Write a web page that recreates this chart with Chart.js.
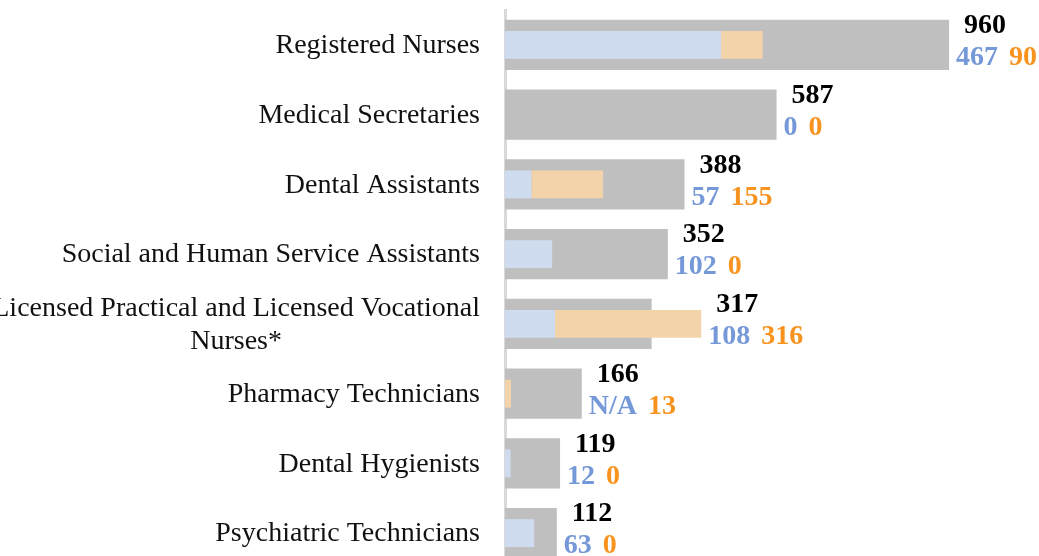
<!DOCTYPE html>
<html><head><meta charset="utf-8">
<script src="https://cdn.jsdelivr.net/npm/chart.js@4/dist/chart.umd.min.js"></script>
<style>
html,body{margin:0;padding:0;background:#fff;overflow:hidden;width:1039px;height:556px;}
#clip{width:1039px;height:556px;overflow:hidden;position:relative;}
#wrap{width:1039px;height:580px;position:absolute;left:0;top:0;}
</style></head><body>
<div id="clip"><div id="wrap"><canvas id="c"></canvas></div></div>
<script>
const categories = [
  "Registered Nurses",
  "Medical Secretaries",
  "Dental Assistants",
  "Social and Human Service Assistants",
  ["Licensed Practical and Licensed Vocational", "Nurses*"],
  "Pharmacy Technicians",
  "Dental Hygienists",
  "Psychiatric Technicians"
];
const totals = [960, 587, 388, 352, 317, 166, 119, 112];
const blueVals = [467, 0, 57, 102, 108, null, 12, 63];
const orangeVals = [90, 0, 155, 0, 316, 13, 0, 0];
const blueLabels = ["467", "0", "57", "102", "108", "N/A", "12", "63"];
const orangeLabels = ["90", "0", "155", "0", "316", "13", "0", "0"];

const BLUE_TXT = '#7598D8', ORANGE_TXT = '#F7931E';
const SERIF = '"Liberation Serif", "Times New Roman", serif';

const labelPlugin = {
  id: 'labels',
  afterDraw(chart) {
    const ctx = chart.ctx, xs = chart.scales.x, ys = chart.scales.y;
    const left = chart.chartArea.left;
    ctx.save();
    ctx.textBaseline = 'middle';
    categories.forEach((cat, i) => {
      const cy = ys.getPixelForValue(i);
      const endVal = Math.max(totals[i], (blueVals[i] || 0) + (orangeVals[i] || 0));
      const end = xs.getPixelForValue(endVal);
      ctx.font = 'bold 28px ' + SERIF;
      ctx.textAlign = 'left';
      ctx.fillStyle = '#000';
      ctx.fillText(String(totals[i]), end + 15, cy - 19);
      ctx.fillStyle = BLUE_TXT;
      ctx.fillText(blueLabels[i], end + 7, cy + 13);
      const w = ctx.measureText(blueLabels[i]).width;
      ctx.fillStyle = ORANGE_TXT;
      ctx.fillText(orangeLabels[i], end + 7 + w + 11, cy + 13);

      ctx.font = '28px ' + SERIF;
      ctx.fillStyle = '#111';
      const lines = Array.isArray(cat) ? cat : [cat];
      const maxW = Math.max(...lines.map(l => ctx.measureText(l).width));
      const right = left - 25;
      const lh = 33;
      ctx.textAlign = 'center';
      lines.forEach((ln, j) => {
        ctx.fillText(ln, right - maxW / 2, cy + 1 + (j - (lines.length - 1) / 2) * lh);
      });
    });
    ctx.restore();
  }
};

new Chart(document.getElementById('c'), {
  type: 'bar',
  data: {
    labels: categories,
    datasets: [
      { label: 'Blue', data: blueVals, backgroundColor: '#CFDCEF', stack: 'parts', grouped: false,
        barPercentage: 0.40, categoryPercentage: 1, order: 1 },
      { label: 'Orange', data: orangeVals, backgroundColor: '#F3D3A9', stack: 'parts', grouped: false,
        barPercentage: 0.40, categoryPercentage: 1, order: 1 },
      { label: 'Total', data: totals, backgroundColor: '#BFBFBF', stack: 'total', grouped: false,
        barPercentage: 0.717, categoryPercentage: 1, order: 2 }
    ]
  },
  options: {
    indexAxis: 'y',
    responsive: true,
    maintainAspectRatio: false,
    animation: false,
    layout: { padding: { left: 505, right: 2, top: 10, bottom: 12 } },
    plugins: { legend: { display: false }, tooltip: { enabled: false } },
    scales: {
      x: { display: false, min: 0, max: 1150, stacked: true },
      y: {
        display: true,
        ticks: { display: false },
        grid: { display: false, drawTicks: false },
        border: { display: true, color: '#D9D9D9', width: 3 }
      }
    }
  },
  plugins: [labelPlugin]
});
</script>
</body></html>
